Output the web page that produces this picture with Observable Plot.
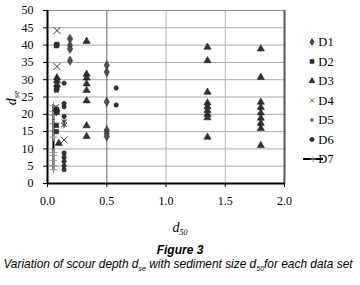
<!DOCTYPE html>
<html><head><meta charset="utf-8">
<script src="https://cdn.jsdelivr.net/npm/d3@7"></script>
<script src="https://cdn.jsdelivr.net/npm/@observablehq/plot@0.6"></script>
<style>
body{margin:0;background:#fff;width:360px;height:285px;overflow:hidden}
#chart svg{display:block}
#cap{font-family:"Liberation Sans",Arial,sans-serif;font-style:italic;text-align:center;color:#000;width:360px}
#cap .t1{font-weight:bold;font-size:12px;line-height:13px;margin-top:4px}
#cap .t2{font-size:11.9px;line-height:15px;white-space:nowrap;margin-left:-4px}
#cap .s{font-size:7px;position:relative;top:3px}
</style></head><body><div id="chart"></div>
<div id="cap"><div class="t1">Figure 3</div><div class="t2">Variation of scour depth d<span class="s">se</span> with sediment size d<span class="s">50</span>for each data set</div></div>
<script>
// ---- data ----
const seriesNames = ["D1","D2","D3","D4","D5","D6","D7"];
const xTicks = [0, 0.5, 1, 1.5, 2];
const yTicks = [0, 5, 10, 15, 20, 25, 30, 35, 40, 45, 50];

const d1x = [0.19,0.19,0.19,0.19,0.5,0.5,0.5,0.5,0.5,0.5];
const d1y = [41.8,39.9,38.9,35.5,34.2,32.2,23.6,15.4,14.5,13.6];

const d2x = [0.08,0.075,0.08,0.075,0.075,0.08,0.075,0.075];
const d2y = [40.2,39.8,27.6,27.0,21.2,20.6,16.8,15.0];

const d3x = [0.08,0.08,0.08,0.095,
  0.33,0.33,0.33,0.33,0.33,0.33,0.33,0.33,
  1.35,1.35,1.35,1.35,1.35,1.35,1.35,1.35,1.35,
  1.8,1.8,1.8,1.8,1.8,1.8,1.8,1.8,1.8];
const d3y = [30.6,29.7,28.6,11.6,
  41.1,31.6,30.5,28.8,26.9,23.9,16.7,13.6,
  39.4,35.5,26.4,23.3,22.2,21.1,20.0,19.0,13.4,
  38.9,30.7,23.5,22.0,20.4,18.9,17.4,15.9,11.0];

const d4x = [0.08,0.08,0.07,0.14];
const d4y = [44.2,33.8,22.0,12.6];

const d5x = [0.07,0.075,0.14,0.14];
const d5y = [21.4,20.4,18.0,16.9];

const d6x = [0.14,0.14,0.14,0.14,0.14,0.14,0.14,0.14,0.14,0.58,0.58,0.08,0.08];
const d6y = [29.0,23.1,22.2,19.4,8.8,7.6,6.4,5.1,4.0,27.6,22.7,21.5,20.9];

const d7x = [0.05,0.05,0.05,0.05,0.05,0.05,0.05,0.05,0.05,0.05,0.05];
const d7y = [4.0,5.2,6.6,8.1,9.0,13.4,15.3,17.3,19.7,20.8,22.5];

const pts = (xs, ys) => xs.map((x, i) => ({x, y: ys[i]}));
const D1 = pts(d1x, d1y), D2 = pts(d2x, d2y), D3 = pts(d3x, d3y), D4 = pts(d4x, d4y),
      D5 = pts(d5x, d5y), D6 = pts(d6x, d6y), D7 = pts(d7x, d7y);

const serif = "'Liberation Serif','Times New Roman',serif";
const W = 360, H = 240, mL = 47, mR = 76, mT = 10, mB = 57;

const chart = Plot.plot({
  width: W, height: H,
  marginLeft: mL, marginRight: mR, marginTop: mT, marginBottom: mB,
  style: {fontFamily: serif, fontSize: "12px", color: "#000", background: "#fff", overflow: "visible"},
  x: {domain: [0, 2], ticks: xTicks, tickFormat: d3.format(".1f"), label: null},
  y: {domain: [0, 50], ticks: yTicks, label: null},
  marks: [
    Plot.gridY(yTicks.filter(d => d > 0 && d < 50), {stroke: "#a8a8a8", strokeOpacity: 1, strokeWidth: 1}),
    Plot.gridX([0.5], {stroke: "#808080", strokeOpacity: 1, strokeWidth: 1.2}),
    Plot.gridX([1, 1.5], {stroke: "#b0b0b0", strokeOpacity: 1, strokeWidth: 1}),
    Plot.ruleY([50], {stroke: "#909090", strokeWidth: 1}),
    Plot.ruleX([2], {stroke: "#555", strokeWidth: 2}),
    Plot.axisY({ticks: yTicks, tickSize: 4, tickPadding: 10, fontSize: 12, tickFormat: d => d}),
    Plot.axisX({ticks: xTicks, tickSize: 4, tickPadding: 9, fontSize: 12, tickFormat: d3.format(".1f")}),
    Plot.line(D7, {x: "x", y: "y", stroke: "#000", strokeWidth: 2}),
    Plot.dot(D7, {x: "x", y: "y", symbol: "plus", r: 2.6, stroke: "#999", strokeWidth: 1, fill: "none"}),
    Plot.dot(D1, {x: "x", y: "y", symbol: "diamond", r: 2.8, fill: "#505050", stroke: "#222", strokeWidth: 0.5}),
    Plot.dot(D2, {x: "x", y: "y", symbol: "square", r: 2.5, fill: "#333", stroke: "#111", strokeWidth: 0.5}),
    Plot.dot(D3, {x: "x", y: "y", symbol: "triangle", r: 2.7, fill: "#333", stroke: "#111", strokeWidth: 0.5}),
    Plot.dot(D4, {x: "x", y: "y", symbol: "times", r: 3.2, stroke: "#333", strokeWidth: 1, fill: "none"}),
    Plot.dot(D5, {x: "x", y: "y", symbol: "asterisk", r: 3, stroke: "#333", strokeWidth: 1, fill: "none"}),
    Plot.dot(D6, {x: "x", y: "y", symbol: "circle", r: 2.2, fill: "#333", stroke: "#111", strokeWidth: 0.5}),
    Plot.ruleX([0], {stroke: "#000", strokeWidth: 2}),
    Plot.ruleY([0], {stroke: "#000", strokeWidth: 2})
  ]
});
document.getElementById("chart").appendChild(chart);

// axis titles with subscripts
const svg = d3.select(chart);
const yl = svg.append("text").attr("transform", "translate(16,98) rotate(-90)")
  .attr("text-anchor", "middle").attr("font-family", serif).attr("font-style", "italic").attr("font-size", 14);
yl.append("tspan").text("d");
yl.append("tspan").attr("font-size", 9).attr("dy", 3).text("se");

const xl = svg.append("text").attr("transform", "translate(180,232)")
  .attr("text-anchor", "middle").attr("font-family", serif).attr("font-style", "italic").attr("font-size", 14);
xl.append("tspan").text("d");
xl.append("tspan").attr("font-size", 8).attr("dy", 3).text("50");

// legend
const lg = svg.append("g").attr("font-family", serif).attr("font-size", 12.5);
const legSym = [
  {t: d3.symbolDiamond, fill: "#505050", stroke: "#222"},
  {t: d3.symbolSquare, fill: "#333", stroke: "#111"},
  {t: d3.symbolTriangle, fill: "#333", stroke: "#111"},
  {t: d3.symbolTimes, fill: "none", stroke: "#333"},
  {t: d3.symbolAsterisk, fill: "none", stroke: "#333"},
  {t: d3.symbolCircle, fill: "#333", stroke: "#111"},
  null
];
seriesNames.forEach((name, i) => {
  const cy = 42 + i * 19.5;
  const g = lg.append("g").attr("transform", `translate(312,${cy})`);
  if (legSym[i]) {
    g.append("path").attr("d", d3.symbol(legSym[i].t, 13)())
      .attr("fill", legSym[i].fill).attr("stroke", legSym[i].stroke).attr("stroke-width", 0.8);
  } else {
    g.append("line").attr("x1", -9).attr("x2", 11).attr("stroke", "#000").attr("stroke-width", 2);
    g.append("path").attr("d", d3.symbol(d3.symbolPlus, 14)()).attr("transform", "translate(1,0)")
      .attr("fill", "none").attr("stroke", "#999").attr("stroke-width", 0.8);
  }
  g.append("text").attr("x", 14).attr("dy", "0.35em").text(name);
});
</script></body></html>
